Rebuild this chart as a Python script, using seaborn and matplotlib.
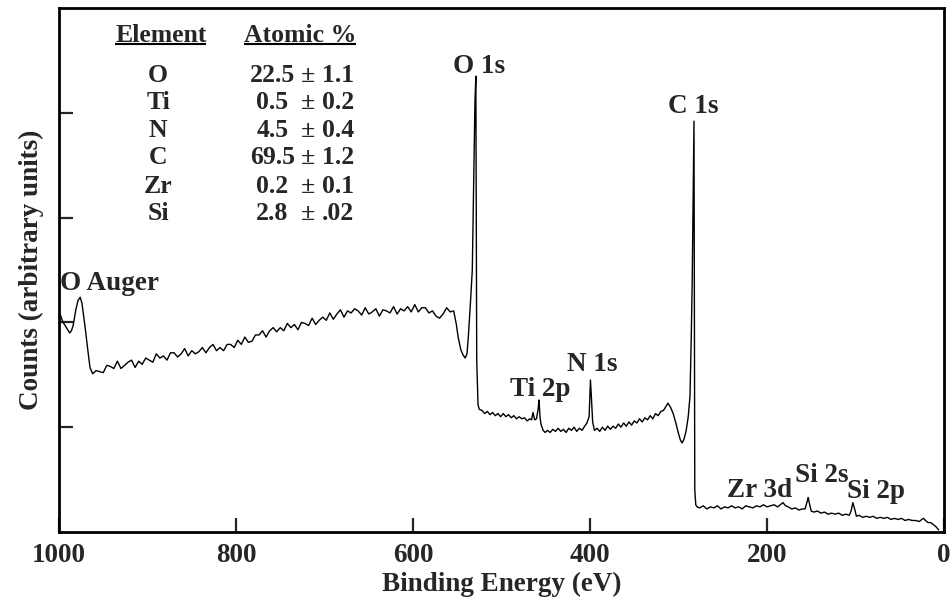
import numpy as np
import pandas as pd
import matplotlib
matplotlib.use("Agg")
import matplotlib.pyplot as plt
import seaborn as sns

# ---------------- data (binding energy eV, counts in arbitrary units) ----------------
auger = [(1000, 2.11), (998, 2.06), (995.5, 2.00), (993, 1.97), (991, 1.94), (988, 1.90),
         (986, 1.92), (984, 1.97), (981, 2.12), (978.5, 2.21), (976, 2.24), (974, 2.18),
         (972, 2.05), (970, 1.92), (967.5, 1.74), (965, 1.57), (962, 1.51)]

background = [(958, 1.54), (954, 1.53), (950, 1.52), (946, 1.59), (942, 1.58), (938, 1.56),
              (934, 1.63), (930, 1.56), (926, 1.59), (922, 1.62), (918, 1.64), (914, 1.57),
              (910, 1.63), (906, 1.60), (902, 1.66), (898, 1.64), (894, 1.62), (890, 1.70),
              (886, 1.66), (882, 1.68), (878, 1.64), (874, 1.71), (870, 1.71), (866, 1.67),
              (862, 1.70), (858, 1.75), (854, 1.68), (850, 1.73), (846, 1.70), (842, 1.72),
              (838, 1.76), (834, 1.71), (830, 1.76), (826, 1.79), (822, 1.73), (818, 1.76),
              (814, 1.73), (810, 1.79), (806, 1.79), (802, 1.76), (798, 1.83), (794, 1.79),
              (790, 1.86), (786, 1.81), (782, 1.82), (778, 1.88), (774, 1.88), (770, 1.92),
              (766, 1.86), (762, 1.92), (758, 1.95), (754, 1.91), (750, 1.95), (746, 1.92),
              (742, 1.99), (738, 1.95), (734, 1.98), (730, 1.93), (726, 2.00), (722, 1.99),
              (718, 1.97), (714, 2.04), (710, 1.98), (706, 2.02), (702, 2.05), (698, 2.02),
              (694, 2.09), (690, 2.03), (686, 2.08), (682, 2.12), (678, 2.05), (674, 2.11),
              (670, 2.09), (666, 2.13), (662, 2.11), (658, 2.07), (654, 2.14), (650, 2.08),
              (646, 2.10), (642, 2.13), (638, 2.06), (634, 2.12), (630, 2.11), (626, 2.09),
              (622, 2.15), (618, 2.08), (614, 2.13), (610, 2.11), (606, 2.15), (602, 2.10),
              (598, 2.17), (594, 2.10), (590, 2.14), (586, 2.14), (582, 2.09), (578, 2.11),
              (574, 2.06), (570, 2.04), (566, 2.08), (562, 2.14), (558, 2.10), (554, 2.11)]

o1s = [(551, 1.98), (549, 1.86), (546, 1.74), (543.5, 1.69), (541, 1.66), (539, 1.70),
       (537.5, 1.86), (535, 2.20), (533, 2.50), (531.5, 3.30), (530, 4.10), (529, 4.35),
       (528, 1.64), (526.5, 1.21), (525, 1.17)]

ti_region = [(522, 1.16), (519, 1.13), (516, 1.15), (513, 1.12), (510, 1.14), (507, 1.11),
             (504, 1.13), (501, 1.10), (498, 1.13), (495, 1.10), (492, 1.12), (489, 1.09),
             (486, 1.11), (483, 1.08), (480, 1.10), (477, 1.08), (474, 1.09), (471, 1.06),
             (468, 1.08), (466, 1.07), (464.4, 1.14), (462.5, 1.07), (460.5, 1.08),
             (458.5, 1.18), (457.6, 1.26), (456.5, 1.10), (455.4, 1.03), (453, 0.97),
             (450.8, 0.95)]

n1s_region = [(448, 0.97), (445, 0.95), (442, 0.98), (439, 0.96), (436, 0.99), (433, 0.96),
              (430, 0.98), (427, 0.95), (424, 0.99), (421, 0.97), (418, 1.00), (415, 0.96),
              (412, 0.99), (409, 0.97), (406, 1.01), (403.5, 1.04), (401, 1.10), (399.5, 1.45),
              (398.5, 1.30), (397, 1.05), (395, 0.97)]

c1s_region = [(392, 0.99), (389, 0.96), (386, 1.00), (383, 0.97), (380, 1.01), (377, 0.98),
              (374, 1.01), (371, 0.99), (368, 1.03), (365, 1.00), (362, 1.04), (359, 1.01),
              (356, 1.05), (353, 1.02), (350, 1.06), (347, 1.04), (344, 1.08), (341, 1.05),
              (338, 1.09), (335, 1.07), (332, 1.11), (329, 1.08), (326, 1.13), (323, 1.11),
              (320, 1.15), (317, 1.16), (314, 1.20), (312, 1.23), (309, 1.19), (306, 1.13),
              (303, 1.04), (300, 0.94), (298, 0.88), (296, 0.85), (294, 0.88), (291.5, 0.96),
              (289, 1.10), (287, 1.30), (285.5, 1.90), (284.5, 2.40), (283.5, 3.20),
              (282.5, 3.92), (281.6, 0.40), (280.5, 0.26), (279, 0.24)]

low_region = [(276, 0.23), (272, 0.25), (268, 0.22), (264, 0.24), (260, 0.23), (256, 0.25),
              (252, 0.22), (248, 0.24), (244, 0.23), (240, 0.25), (236, 0.23), (232, 0.24),
              (228, 0.22), (224, 0.25), (220, 0.24), (216, 0.23), (212, 0.25), (208, 0.24),
              (204, 0.26), (200, 0.24), (196, 0.25), (192, 0.26), (188, 0.24), (185, 0.26),
              (182, 0.28), (179, 0.25), (176, 0.24), (172, 0.22), (168, 0.23), (164, 0.21),
              (160, 0.22), (157, 0.22), (155, 0.28), (153.5, 0.33), (152, 0.27), (150, 0.20),
              (147, 0.19), (143, 0.20), (139, 0.18), (135, 0.19), (131, 0.17), (127, 0.18),
              (123, 0.17), (119, 0.18), (115, 0.16), (111, 0.17), (107, 0.16), (105, 0.20),
              (103, 0.28), (101, 0.22), (99, 0.15), (96, 0.16), (92, 0.14), (88, 0.15),
              (84, 0.14), (80, 0.15), (76, 0.13), (72, 0.14), (68, 0.13), (64, 0.14),
              (60, 0.12), (56, 0.13), (52, 0.12), (48, 0.13), (44, 0.11), (40, 0.12),
              (36, 0.11), (32, 0.11), (28, 0.10), (25, 0.12), (23, 0.13), (21, 0.11),
              (18, 0.09), (15, 0.09), (12, 0.07), (9, 0.05), (6, 0.02)]

x_ticks = [1000, 800, 600, 400, 200, 0]
y_ticks = [1, 2, 3, 4]

elements = ["O", "Ti", "N", "C", "Zr", "Si"]
atomic_pct = ["22.5", "0.5", "4.5", "69.5", "0.2", "2.8"]
atomic_err = ["1.1", "0.2", "0.4", "1.2", "0.1", ".02"]

peak_labels = ["O 1s", "C 1s", "O Auger", "Ti 2p", "N 1s", "Zr 3d", "Si 2s", "Si 2p"]
peak_label_E = [525.4, 283.6, 942.4, 455.9, 397.7, 207.9, 138.4, 76.3]
peak_label_I = [4.38, 4.00, 2.31, 1.30, 1.54, 0.33, 0.48, 0.32]

# ---------------- build table ----------------
segments = auger + background + o1s + ti_region + n1s_region + c1s_region + low_region
df = pd.DataFrame(segments, columns=["energy", "counts"])

# ---------------- style ----------------
sns.set_theme(style="white")
plt.rcParams["font.family"] = ["Liberation Serif", "DejaVu Serif"]
plt.rcParams["font.weight"] = "bold"

W, H = 950, 603
fig = plt.figure(figsize=(W / 100, H / 100), dpi=100)
ax = fig.add_axes([59 / W, 1 - 532 / H, (944 - 59) / W, (532 - 8) / H])

sns.lineplot(data=df, x="energy", y="counts", ax=ax, color="black", linewidth=1.0,
             sort=False, estimator=None)

ax.set_xlim(1000, 0)
ax.set_ylim(0, 5)
ax.set_xticks(x_ticks)
ax.set_xticklabels([str(t) for t in x_ticks], fontsize=19.5, fontweight="bold")
ax.set_yticks(y_ticks)
ax.set_yticklabels([])
ax.tick_params(axis="x", direction="in", length=10, width=1.6, pad=8, bottom=True, top=False)
ax.tick_params(axis="y", direction="in", length=10, width=1.6, left=True, right=False)

for sp in ax.spines.values():
    sp.set_visible(True)
    sp.set_color("black")
    sp.set_linewidth(2.0)

ax.set_xlabel("Binding Energy (eV)", fontsize=19.5, fontweight="bold", labelpad=3)
ax.set_ylabel("Counts (arbitrary units)", fontsize=19.5, fontweight="bold")
ax.yaxis.set_label_coords(-0.017, 0.5)

# peak labels
for lab, e, i in zip(peak_labels, peak_label_E, peak_label_I):
    ax.text(e, i, lab, ha="center", va="baseline", fontsize=19.5, fontweight="bold")

# composition table (axes fraction)
tsize = 18.5
h1 = ax.text(0.115, 0.947, "Element", transform=ax.transAxes, ha="center", va="center",
             fontsize=tsize, fontweight="bold")
h2 = ax.text(0.272, 0.947, "Atomic %", transform=ax.transAxes, ha="center", va="center",
             fontsize=tsize, fontweight="bold")
row_y = [0.872, 0.820, 0.767, 0.714, 0.660, 0.607]
for el, pct, err, yy in zip(elements, atomic_pct, atomic_err, row_y):
    ax.text(0.112, yy, el, transform=ax.transAxes, ha="center", va="center",
            fontsize=tsize, fontweight="bold")
    ax.text(0.241, yy, pct, transform=ax.transAxes, ha="center", va="center",
            fontsize=tsize, fontweight="bold")
    ax.text(0.281, yy, "\u00b1", transform=ax.transAxes, ha="center", va="center",
            fontsize=tsize, fontweight="bold")
    ax.text(0.297, yy, err, transform=ax.transAxes, ha="left", va="center",
            fontsize=tsize, fontweight="bold")

# underline headers
fig.canvas.draw()
renderer = fig.canvas.get_renderer()
inv = ax.transAxes.inverted()
for h in (h1, h2):
    bb = h.get_window_extent(renderer=renderer)
    (x0, y0), (x1, y1) = inv.transform([[bb.x0, bb.y0 + 3], [bb.x1, bb.y1]])
    ax.plot([x0, x1], [y0, y0], transform=ax.transAxes, color="black", linewidth=1.5,
            solid_capstyle="butt")

fig.savefig("out.png", dpi=100)
